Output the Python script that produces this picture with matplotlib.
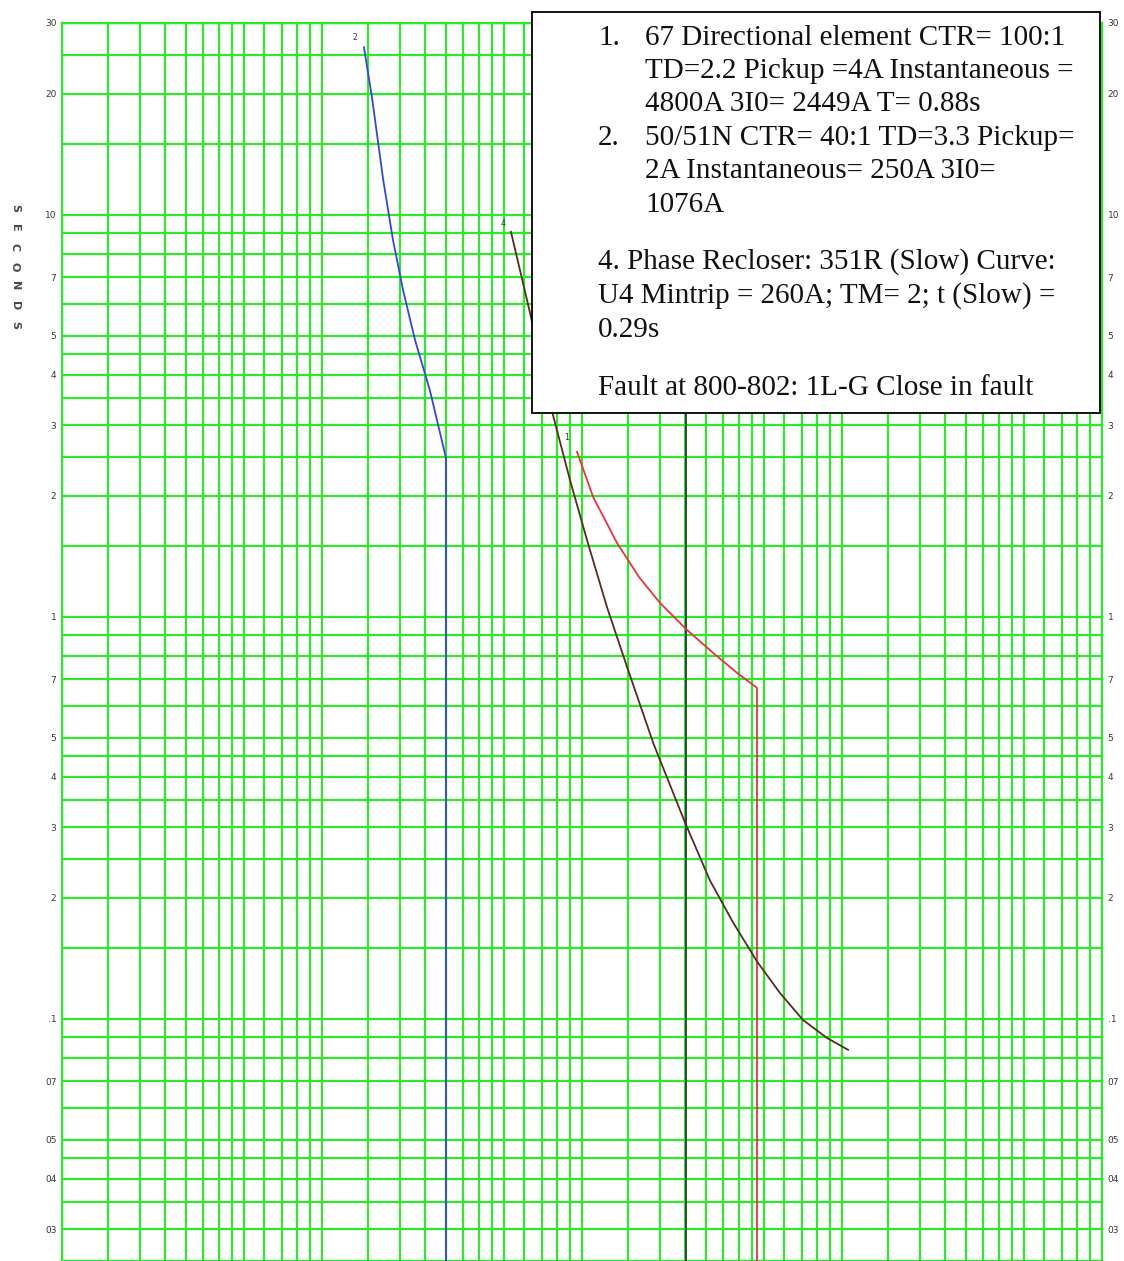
import numpy as np
import matplotlib
matplotlib.use("Agg")
import matplotlib.pyplot as plt
from matplotlib.patches import Rectangle

W, H = 1124, 1261
DPI = 100

# ---- data -------------------------------------------------------------
# Relay 2 (50/51N): inverse-time part, then instantaneous vertical
relay2_amps = [14.5, 15.6, 17.2, 18.75, 20.5, 22.8, 26.0, 30.0, 30.0]
relay2_secs = [26.1, 19.4, 12.2, 8.66, 6.50, 4.88, 3.66, 2.48, 0.025]

# Recloser 4 (slow curve)
rec4_amps = [53.3, 62.2, 77.3, 89.9, 104.5, 124.7, 149, 188.5, 249,
             310.6, 380.7, 471, 577.5, 708, 875, 1055]
rec4_secs = [9.07, 5.94, 3.18, 2.19, 1.554, 1.059, 0.751, 0.483, 0.308,
             0.221, 0.174, 0.139, 0.116, 0.0994, 0.0897, 0.0838]

# Relay 1 (67 directional): inverse-time part, then instantaneous vertical
relay1_amps = [95.7, 110.3, 136.3, 165.6, 199.6, 253.4, 319, 394.5, 471, 471]
relay1_secs = [2.573, 1.989, 1.528, 1.257, 1.083, 0.928, 0.814, 0.726, 0.666, 0.025]

# Fault current marker
fault_amps = 251

# Log-paper rulings and scale labels
paper_mults = [1, 1.5, 2, 2.5, 3, 3.5, 4, 4.5, 5, 6, 7, 8, 9]
time_tick_vals = [30, 20, 10, 7, 5, 4, 3, 2, 1, 0.7, 0.5, 0.4, 0.3, 0.2,
                  0.1, 0.07, 0.05, 0.04, 0.03]
time_tick_text = ["30", "20", "10", "7", "5", "4", "3", "2", "1", "7", "5",
                  "4", "3", "2", ".1", "07", "05", "04", "03"]

note_lines = [
    ("1.", "67 Directional element CTR= 100:1"),
    ("", "TD=2.2 Pickup =4A Instantaneous ="),
    ("", "4800A 3I0= 2449A T= 0.88s"),
    ("2.", "50/51N CTR= 40:1 TD=3.3 Pickup="),
    ("", "2A Instantaneous= 250A 3I0="),
    ("", "1076A"),
    (None, "4. Phase Recloser: 351R (Slow) Curve:"),
    (None, "U4 Mintrip = 260A; TM= 2; t (Slow) ="),
    (None, "0.29s"),
    (None, "Fault at 800-802: 1L-G Close in fault"),
]
note_rows = [38, 71, 104, 138, 171, 205, 262, 296, 330, 388]

# ---- figure -----------------------------------------------------------
fig = plt.figure(figsize=(W / DPI, H / DPI), dpi=DPI)
fig.patch.set_facecolor("white")


def fx(px):
    return px / W


def fy(py):
    return 1 - py / H


ax_l, ax_r, ax_t, ax_b = 62, 1102, 23, 1261
ax = fig.add_axes([fx(ax_l), fy(ax_b), fx(ax_r) - fx(ax_l), fy(ax_t) - fy(ax_b)])
ax.set_xscale("log")
ax.set_yscale("log")
ax.set_xlim(1, 10000)
ax.set_ylim(0.025, 30)

grid_color = "#2ee82e"
for dec in [1, 10, 100, 1000]:
    for m in paper_mults:
        ax.axvline(dec * m, color=grid_color, lw=1.6, zorder=1)
ax.axvline(10000, color=grid_color, lw=1.6, zorder=1)
for dec in [0.01, 0.1, 1, 10]:
    for m in paper_mults:
        v = dec * m
        if 0.025 <= v <= 30:
            ax.axhline(v, color=grid_color, lw=1.6, zorder=1)
ax.axhline(30, color=grid_color, lw=1.6, zorder=1)

for s in ax.spines.values():
    s.set_color(grid_color)
    s.set_linewidth(1.6)

ax.xaxis.set_major_locator(matplotlib.ticker.NullLocator())
ax.xaxis.set_minor_locator(matplotlib.ticker.NullLocator())
ax.yaxis.set_minor_locator(matplotlib.ticker.NullLocator())
ax.set_yticks(time_tick_vals)
ax.set_yticklabels(time_tick_text)
ax.tick_params(axis="y", length=0, labelsize=6.5, labelcolor="#363636",
               labelleft=True, labelright=True, pad=4)

# curves
ax.plot(relay2_amps, relay2_secs, color="#3a44d8", lw=1.3, zorder=3)
ax.axvline(fault_amps, color="#333333", lw=1.3, zorder=3)
ax.plot(relay1_amps, relay1_secs, color="#e8333f", lw=1.3, zorder=3)
ax.plot(rec4_amps, rec4_secs, color="#5a2a22", lw=1.3, zorder=4)

# curve numbers
ax.text(relay2_amps[0] * 0.925, relay2_secs[0] * 1.06, "2", fontsize=5.5,
        color="#333333", ha="center", va="center", zorder=5)
ax.text(rec4_amps[0] * 0.935, rec4_secs[0] * 1.047, "4", fontsize=5.5,
        color="#333333", ha="center", va="center", zorder=5)
ax.text(relay1_amps[0] * 0.915, relay1_secs[0] * 1.085, "1", fontsize=5.5,
        color="#333333", ha="center", va="center", zorder=5)

# axis title along the left edge, letter-spaced
for i, ch in enumerate("SECONDS"):
    fig.text(fx(15), fy(208 + i * 19.5), ch, rotation=-90, fontsize=8,
             fontweight="bold", color="#4a4a4a", ha="center", va="center")

# settings note box
box = Rectangle((fx(532), fy(413)), fx(1100) - fx(532), fy(12) - fy(413),
                transform=fig.transFigure, facecolor="white", edgecolor="black",
                lw=1.3, zorder=10)
fig.patches.append(box)

serif = ["Liberation Serif", "DejaVu Serif"]
fs = 21
for (num, body), row in zip(note_lines, note_rows):
    if num is None:
        fig.text(fx(598), fy(row), body, family=serif, fontsize=fs,
                 ha="left", va="center", zorder=11, color="#111111")
    else:
        if num:
            fig.text(fx(598), fy(row), num, family=serif, fontsize=fs,
                     ha="left", va="center", zorder=11, color="#111111")
        fig.text(fx(645), fy(row), body, family=serif, fontsize=fs,
                 ha="left", va="center", zorder=11, color="#111111")

fig.savefig("out.png", dpi=DPI)
